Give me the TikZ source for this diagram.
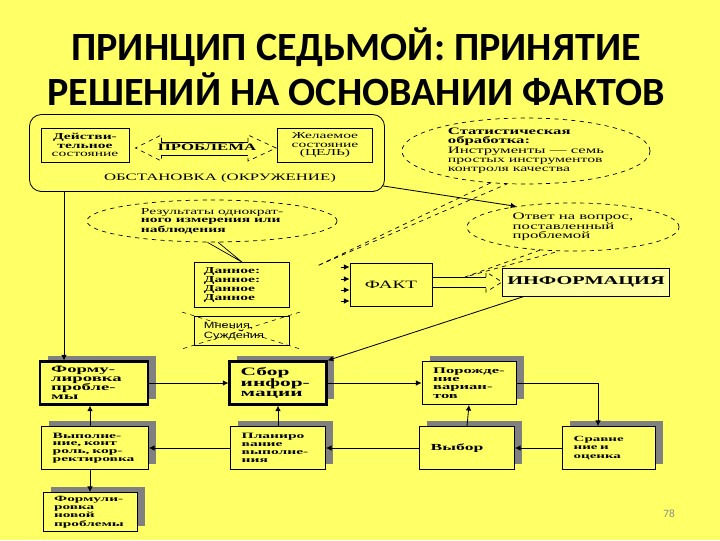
\documentclass[tikz,border=0pt]{standalone}
\usepackage{fontspec}
\setmainfont{Carlito}
\newfontfamily\dg[FakeStretch=1.7]{Liberation Serif}
\newfontfamily\bx[FakeStretch=1.9]{Liberation Serif}
\newfontfamily\dgs[FakeStretch=1.4]{Liberation Sans}
\usetikzlibrary{shapes.geometric,shadows,calc,arrows.meta}
\definecolor{bgyellow}{RGB}{255,255,102}
\definecolor{shadegrey}{RGB}{128,128,128}
\definecolor{pagegrey}{RGB}{140,140,140}

\begin{document}
\begin{tikzpicture}[x=0.025cm,y=-0.025cm,
  stage/.style={draw,fill=bgyellow,line width=0.6pt,text width=#1,minimum height=1.075cm,
    inner xsep=0.28cm,inner ysep=1pt,align=left,font=\bx\bfseries\fontsize{7}{5.9}\selectfont,
    execute at begin node={\lineskiplimit=-10pt\relax},
    drop shadow={shadow xshift=0.19cm,shadow yshift=0.13cm,fill=shadegrey,opacity=1}},
  fs/.style 2 args={font=\bx\bfseries\fontsize{#1}{#2}\selectfont},
  heavy/.style={line width=1.5pt},
  cloud/.style={ellipse,draw,dashed,line width=0.5pt,inner sep=0pt,align=left},
  crate/.style={draw,line width=0.6pt,align=center,inner sep=1pt},
  arr/.style={-{Latex[length=4pt,width=4pt]},line width=0.6pt},
  tail/.style={dashed,line width=0.5pt}]
  \useasboundingbox (0,0) rectangle (720,540);
  \fill[bgyellow] (0,0) rectangle (720,540);

  % title
  \node (title) at (356,67) [align=center,font=\bfseries\fontsize{28.5}{32}\selectfont]
    {ПРИНЦИП СЕДЬМОЙ: ПРИНЯТИЕ\\РЕШЕНИЙ НА ОСНОВАНИИ ФАКТОВ};

  % environment block
  \node (env) at (207,153) [draw,line width=0.6pt,rounded corners=0.3cm,
    minimum width=8.875cm,minimum height=1.925cm] {};
  \node (deistv) at (85,145) [crate,minimum width=2.2cm,minimum height=0.85cm,
    font=\dg\bfseries\fontsize{6.5}{5.8}\selectfont] {Действи-\\тельное\\{\mdseries состояние}};
  \node (zhel) at (325,145) [crate,minimum width=2.375cm,minimum height=0.85cm,
    font=\dg\fontsize{6.5}{5.8}\selectfont] {Желаемое\\состояние\\(ЦЕЛЬ)};
  \node (prob) at (207,147) [font=\dg\bfseries\fontsize{7}{7}\selectfont] {ПРОБЛЕМА};
  \coordinate (pl) at ($(deistv.east)+(6,3)$);
  \coordinate (pr) at ($(zhel.west)+(-1,3)$);
  \draw[line width=0.6pt] ($(pl)+(26,-6)$) -- ($(pr)+(-28,-6)$) ($(pl)+(26,7)$) -- ($(pr)+(-28,7)$);
  \draw[tail] ($(pl)+(26,-6)$) -- ($(pl)+(26,-13)$) -- (pl) -- ($(pl)+(26,13)$) -- ($(pl)+(26,7)$);
  \draw[tail] ($(pr)+(-28,-6)$) -- ($(pr)+(-28,-13)$) -- (pr) -- ($(pr)+(-28,13)$) -- ($(pr)+(-28,7)$);
  \node (envlbl) at (220,178) [font=\dg\fontsize{7}{7}\selectfont] {ОБСТАНОВКА (ОКРУЖЕНИЕ)};

  % clouds
  \node (stat) at (526,151) [cloud,minimum width=6.2cm,minimum height=1.65cm,
    font=\dg\fontsize{7}{6.6}\selectfont]
    {\textbf{Статистическая}\\\textbf{обработка:}\\Инструменты — семь\\
     {\fontsize{6.6}{6.6}\selectfont простых инструментов}\\{\fontsize{6.6}{6.6}\selectfont контроля качества}};
  \node (rezult) at (212,221) [cloud,minimum width=6.25cm,minimum height=1.05cm,
    font=\dg\bfseries\fontsize{6.5}{6}\selectfont]
    {{\mdseries Результаты однократ-}\\ного измерения или\\наблюдения};
  \node (otvet) at (573,227) [cloud,minimum width=5.3cm,minimum height=1.2cm,
    font=\dg\fontsize{7}{6.2}\selectfont] {Ответ на вопрос,\\поставленный\\проблемой};

  % facts
  \node (dannoe) at (242,285) [crate,minimum width=2.375cm,minimum height=1.125cm,text width=1.9cm,
    align=left,font=\dg\bfseries\fontsize{6.5}{6.3}\selectfont] {Данное:\\Данное:\\Данное\\Данное};
  \node (mnenia) at (242,331) [crate,minimum width=2.375cm,minimum height=0.725cm,text width=1.9cm,
    align=left,font=\dgs\fontsize{6.5}{7}\selectfont] {Мнения,\\Суждения};
  \node (fakt) at (391,285) [crate,minimum width=2.05cm,minimum height=1.075cm,
    font=\dg\fontsize{8}{8}\selectfont] {ФАКТ};
  \node (info) at (586,282) [crate,fill=bgyellow!60!white,minimum width=4.175cm,minimum height=0.7cm,
    font=\dg\bfseries\fontsize{8.5}{8}\selectfont] {ИНФОРМАЦИЯ};

  % stages
  \node (form) at (94,383) [stage=2.14cm,heavy,fs={7}{6.4}] {Форму-\\лировка\\пробле-\\мы};
  \node (sbor) at (278,383) [stage=1.865cm,heavy,fs={8}{7.3}] {Сбор\\инфор-\\мации};
  \node (porozh) at (469,383) [stage=1.79cm,fs={6.2}{5.9}] {Порожде-\\ние\\вариан-\\тов};
  \node (vypoln) at (95,448) [stage=2.115cm,fs={5.8}{5.5}] {Выполне-\\ние, конт\\роль, кор-\\ректировка};
  \node (plan) at (278,448) [stage=1.815cm,fs={5.8}{5.7}] {Планиро\\вание\\выполне-\\ния};
  \node (vybor) at (467,448) [stage=1.815cm,fs={6.6}{6}] {Выбор};
  \node (sravn) at (609,448) [stage=1.765cm,fs={5.6}{5.9}] {Сравне\\ние и\\оценка};
  \node (novaya) at (90,512) [stage=1.79cm,minimum height=0.975cm,fs={5.7}{5.9}] {Формули-\\ровка\\новой\\проблемы};

  \node (pageno) at (669,514) [text=pagegrey,font=\fontsize{8}{8}\selectfont] {78};

  % callout tails
  \coordinate (stattip) at (317,266);
  \draw[tail] (stat.222) -- (stattip) -- (stat.240);
  \coordinate (otvtip) at (465,277);
  \draw[tail] (otvet.215) -- (otvtip) -- (otvet.240);
  \draw[line width=0.5pt] (rezult.258) -- (dannoe.north) -- (rezult.286);
  \draw[tail,line width=0.4pt] ($(mnenia.north west)+(-12,-4)$) -- ($(mnenia.south east)+(10,3)$)
    ($(mnenia.north east)+(10,-4)$) -- ($(mnenia.south west)+(-12,3)$);

  % fact to information
  \foreach \dy in {-18,-6,5,16}
    \draw[arr] ($(fakt.west)+(-9,\dy)$) -- ($(fakt.west)+(0,\dy)$);
  \draw[line width=0.6pt] ($(fakt.east |- info.west)+(0,-5)$) -- ($(info.west)+(-16,-5)$)
    ($(fakt.east |- info.west)+(0,5)$) -- ($(info.west)+(-16,5)$);
  \draw[tail] ($(info.west)+(-16,-5)$) -- ($(info.west)+(-16,-10)$) -- (info.west)
    -- ($(info.west)+(-16,10)$) -- ($(info.west)+(-16,5)$);

  % connectors
  \coordinate (envfoot) at ($(env.south west)+(35,0)$);
  \draw[arr] (envfoot) -- (envfoot |- form.north);
  \draw[arr] ($(env.south east)+(-2,-6)$) -- (otvet.160);
  \draw[arr] ($(info.south west)+(22,0)$) -- (sbor.north east);
  \draw[arr] (form.east) -- (sbor.west);
  \draw[arr] (sbor.east) -- (porozh.west);
  \draw[arr] (porozh.east) -| ($(sravn.north)+(-11,0)$);
  \draw[arr] (sravn.west) -- (vybor.east);
  \draw[arr] (vybor.north) -- (porozh.south);
  \draw[arr] (vybor.west) -- (plan.east);
  \draw[arr] (plan.north) -- (sbor.south);
  \draw[arr] (plan.west) -- (vypoln.east);
  \draw[arr] (vypoln.north -| novaya) -- (form.south -| novaya);
  \draw[arr] (vypoln.south -| novaya) -- (novaya.north);
\end{tikzpicture}
\end{document}
